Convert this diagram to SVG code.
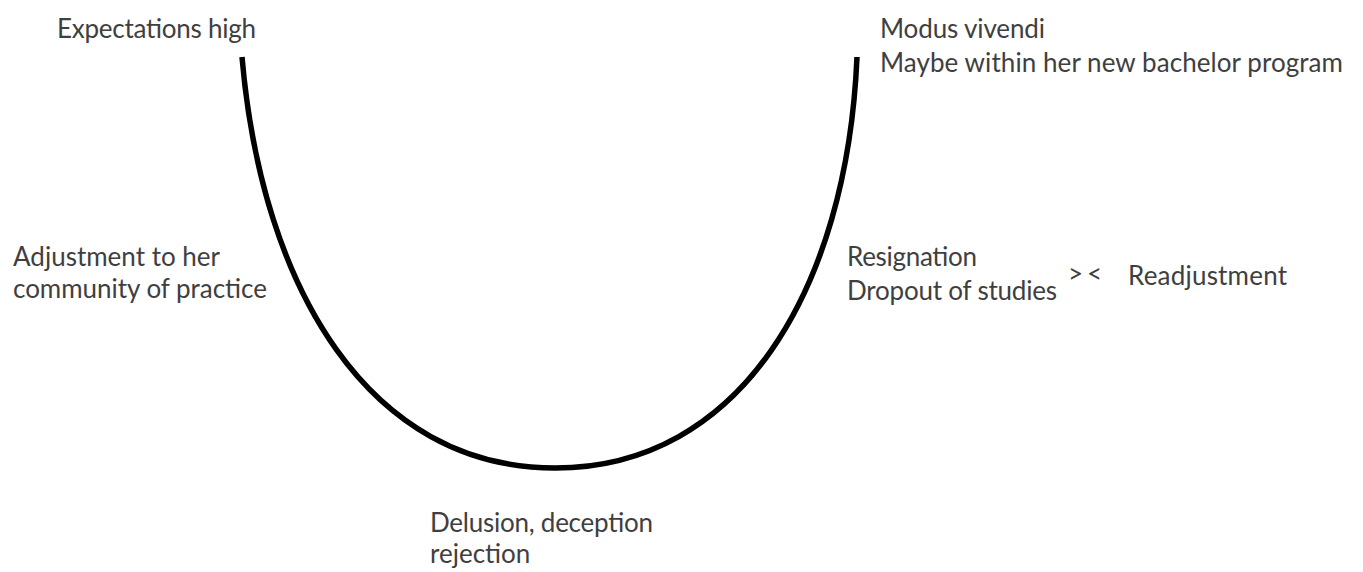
<svg xmlns="http://www.w3.org/2000/svg" width="1363" height="572" viewBox="0 0 1363 572">
<style>
.t{font-family:Lato,"Open Sans","Liberation Sans",sans-serif;font-size:26px;fill:#3f3f3f;}
.c{fill:none;stroke:#000;stroke-width:5.5;stroke-linecap:butt;}
</style>
<rect width="1363" height="572" fill="#fff"/>
<g id="connectors">
<path class="c" d="M242,57 C262,290 370,468 555,468 C740,468 847,290 857,57"/>
</g>
<g id="expectations"><text class="t" x="57" y="38" textLength="199">Expectations high</text></g>
<g id="modus">
<text class="t" x="880" y="38" textLength="165">Modus vivendi</text>
<text class="t" x="880" y="72" textLength="463">Maybe within her new bachelor program</text>
</g>
<g id="adjustment">
<text class="t" x="13" y="266" textLength="207">Adjustment to her</text>
<text class="t" x="13" y="298" textLength="254">community of practice</text>
</g>
<g id="resignation">
<text class="t" x="847" y="266" textLength="130">Resignation</text>
<text class="t" x="847" y="300" textLength="210">Dropout of studies</text>
</g>
<g id="versus"><text class="t" x="1068" y="283" textLength="34">&gt; &lt;</text></g>
<g id="readjustment"><text class="t" x="1128" y="285" textLength="159">Readjustment</text></g>
<g id="delusion">
<text class="t" x="430" y="532" textLength="223">Delusion, deception</text>
<text class="t" x="430" y="563">rejection</text>
</g>
</svg>
